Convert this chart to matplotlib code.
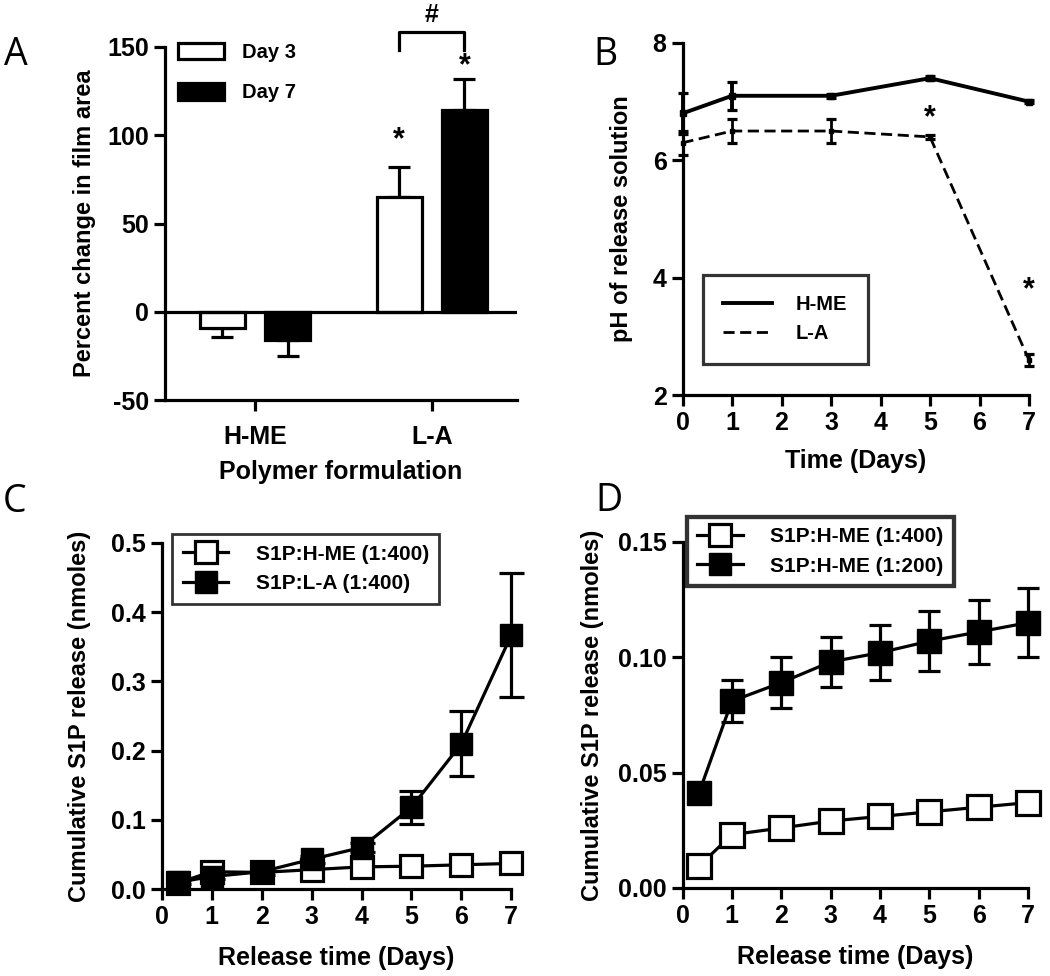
import numpy as np
import matplotlib
matplotlib.use("Agg")
import matplotlib.pyplot as plt
from matplotlib.patches import Patch
from matplotlib.lines import Line2D

plt.rcParams['font.family'] = ['Liberation Sans', 'DejaVu Sans']
plt.rcParams['font.weight'] = 'bold'
plt.rcParams['axes.unicode_minus'] = False

# panel A - film area change
formulations = ["H-ME", "L-A"]
day3_change = [-9, 65]
day3_err = [5, 17]
day7_change = [-16, 114]
day7_err = [9, 18]

# panel B - pH of release solution
ph_days = [0, 1, 3, 5, 7]
ph_hme = [6.8, 7.1, 7.1, 7.4, 7.0]
ph_hme_err = [0.35, 0.24, 0.03, 0.03, 0.03]
ph_la = [6.3, 6.5, 6.5, 6.4, 2.6]
ph_la_err = [0.2, 0.2, 0.2, 0.03, 0.1]

# panel C - cumulative release, H-ME vs L-A
rel_days = [0.33, 1, 2, 3, 4, 5, 6, 7]
c_hme = [0.009, 0.025, 0.024, 0.028, 0.032, 0.033, 0.035, 0.037]
c_la = [0.010, 0.018, 0.025, 0.043, 0.060, 0.118, 0.210, 0.367]
c_la_err = [0.003, 0.004, 0.004, 0.005, 0.006, 0.024, 0.047, 0.09]

# panel D - cumulative release, two loadings
d_400 = [0.0094, 0.0231, 0.026, 0.029, 0.031, 0.033, 0.035, 0.037]
d_200 = [0.041, 0.081, 0.089, 0.098, 0.102, 0.107, 0.111, 0.115]
d_200_err = [0.002, 0.009, 0.011, 0.011, 0.012, 0.013, 0.014, 0.015]

LW = 2.3
TICK_FS = 18
LAB_FS = 17
XLAB_FS = 18


def style(ax):
    for s in ["top", "right"]:
        ax.spines[s].set_visible(False)
    for s in ["left", "bottom"]:
        ax.spines[s].set_linewidth(LW)
    ax.tick_params(width=LW, length=8, labelsize=TICK_FS, direction="out")
    for lab in ax.get_xticklabels() + ax.get_yticklabels():
        lab.set_fontweight("bold")


fig = plt.figure(figsize=(10.5, 9.76), dpi=100)

# ---- A ----
axA = fig.add_axes([0.157, 0.590, 0.335, 0.362])
x = np.arange(len(formulations))
w = 0.255
off = 0.185
axA.bar(x - off, day3_change, w, color="white", edgecolor="black", linewidth=LW, zorder=3)
axA.bar(x + off, day7_change, w, color="black", edgecolor="black", linewidth=LW, zorder=3)
for i in range(len(formulations)):
    for xv, v, e in [(x[i] - off, day3_change[i], day3_err[i]), (x[i] + off, day7_change[i], day7_err[i])]:
        if v >= 0:
            axA.errorbar(xv, v, yerr=[[0], [e]], color="black", lw=LW, capsize=8, capthick=LW, zorder=2)
        else:
            axA.errorbar(xv, v, yerr=[[e], [0]], color="black", lw=LW, capsize=8, capthick=LW, zorder=2)
axA.axhline(0, color="black", lw=LW, zorder=4)
axA.set_xlim(-0.51, 1.48)
axA.set_ylim(-50, 150)
axA.set_yticks([-50, 0, 50, 100, 150])
axA.set_xticks(x)
axA.set_xticklabels(formulations)
axA.tick_params(axis="x", pad=10)
style(axA)
axA.set_ylabel("Percent change in film area", fontsize=LAB_FS, fontweight="bold", labelpad=8)
axA.set_xlabel("Polymer formulation", fontsize=XLAB_FS, fontweight="bold", labelpad=8)
axA.text(x[1] - off, 97, "*", ha="center", va="center", fontsize=22, fontweight="bold")
axA.text(x[1] + off, 139, "*", ha="center", va="center", fontsize=22, fontweight="bold")
axA.plot([x[1] - off, x[1] - off, x[1] + off, x[1] + off], [148, 158.5, 158.5, 148],
         color="black", lw=LW, clip_on=False)
axA.text(x[1], 161, "#", ha="center", va="bottom", fontsize=18, fontweight="bold")
axA.legend(handles=[Patch(facecolor="white", edgecolor="black", linewidth=LW, label="Day 3"),
                    Patch(facecolor="black", edgecolor="black", linewidth=LW, label="Day 7")],
           loc="upper left", bbox_to_anchor=(-0.014, 1.063), frameon=False,
           handlelength=2.3, handleheight=0.9, handletextpad=0.9, labelspacing=1.05,
           prop={"weight": "bold", "size": 14.5})

# ---- B ----
axB = fig.add_axes([0.650, 0.595, 0.330, 0.361])
axB.errorbar(ph_days, ph_hme, yerr=ph_hme_err, color="black", lw=LW + 0.5, capsize=3.5,
             capthick=LW, marker="s", ms=4, clip_on=False, label="H-ME")
axB.errorbar(ph_days, ph_la, yerr=ph_la_err, color="black", lw=LW - 0.3, ls=(0, (4, 2)), capsize=3.5,
             capthick=LW, marker="s", ms=3, clip_on=False, label="L-A")
axB.set_xlim(0, 7)
axB.set_ylim(2, 8)
axB.set_xticks(range(8))
axB.set_yticks([2, 4, 6, 8])
style(axB)
axB.set_ylabel("pH of release solution", fontsize=LAB_FS, fontweight="bold", labelpad=14)
axB.set_xlabel("Time (Days)", fontsize=XLAB_FS, fontweight="bold", labelpad=10)
axB.text(5, 6.72, "*", ha="center", va="center", fontsize=22, fontweight="bold")
axB.text(7, 3.79, "*", ha="center", va="center", fontsize=22, fontweight="bold", clip_on=False)
legB = axB.legend(handles=[Line2D([], [], color="black", lw=LW + 0.5, label="H-ME"),
                           Line2D([], [], color="black", lw=LW - 0.3, ls=(0, (4, 2)), label="L-A")],
                  loc="lower left", bbox_to_anchor=(0.06, 0.09), fancybox=False,
                  edgecolor="black", handlelength=2.4, handletextpad=1.2, borderpad=1.0,
                  borderaxespad=0, prop={"weight": "bold", "size": 14.5})
legB.get_frame().set_linewidth(LW)

# ---- C ----
axC = fig.add_axes([0.154, 0.0891, 0.333, 0.3546])
axC.errorbar(rel_days, c_hme, color="black", lw=LW, marker="s", ms=16, mfc="white", mec="black",
             mew=LW, clip_on=False, zorder=3)
axC.errorbar(rel_days, c_la, yerr=c_la_err, color="black", lw=LW, marker="s", ms=16, mfc="black",
             mec="black", capsize=9, capthick=LW, clip_on=False, zorder=4)
axC.set_xlim(0, 7)
axC.set_ylim(0, 0.5)
axC.set_xticks(range(8))
axC.set_yticks([0, 0.1, 0.2, 0.3, 0.4, 0.5])
axC.set_yticklabels(["0.0", "0.1", "0.2", "0.3", "0.4", "0.5"])
style(axC)
axC.set_ylabel("Cumulative S1P release (nmoles)", fontsize=LAB_FS, fontweight="bold", labelpad=14)
axC.set_xlabel("Release time (Days)", fontsize=XLAB_FS, fontweight="bold", labelpad=12)
hC = [Line2D([], [], color="black", lw=LW, marker="s", ms=16, mfc="white", mec="black", mew=LW),
      Line2D([], [], color="black", lw=LW, marker="s", ms=16, mfc="black", mec="black")]
legC = axC.legend(hC, ["S1P:H-ME (1:400)", "S1P:L-A (1:400)"], loc="upper left",
                  bbox_to_anchor=(0.03, 1.025), fancybox=False, edgecolor="black",
                  handlelength=2.2, handletextpad=1.3, borderpad=0.5, borderaxespad=0,
                  labelspacing=0.5, prop={"weight": "bold", "size": 15})
legC.get_frame().set_linewidth(LW - 0.3)

# ---- D ----
axD = fig.add_axes([0.650, 0.0902, 0.329, 0.3545])
axD.errorbar(rel_days, d_400, color="black", lw=LW, marker="s", ms=17, mfc="white", mec="black",
             mew=LW, clip_on=False, zorder=3)
axD.errorbar(rel_days, d_200, yerr=d_200_err, color="black", lw=LW, marker="s", ms=17, mfc="black",
             mec="black", capsize=8, capthick=LW, clip_on=False, zorder=4)
axD.set_xlim(0, 7)
axD.set_ylim(0, 0.15)
axD.set_xticks(range(8))
axD.set_yticks([0, 0.05, 0.10, 0.15])
axD.set_yticklabels(["0.00", "0.05", "0.10", "0.15"])
style(axD)
axD.set_ylabel("Cumulative S1P release (nmoles)", fontsize=LAB_FS, fontweight="bold", labelpad=10)
axD.set_xlabel("Release time (Days)", fontsize=XLAB_FS, fontweight="bold", labelpad=12)
hD = [Line2D([], [], color="black", lw=LW, marker="s", ms=16, mfc="white", mec="black", mew=LW),
      Line2D([], [], color="black", lw=LW, marker="s", ms=16, mfc="black", mec="black")]
legD = axD.legend(hD, ["S1P:H-ME (1:400)", "S1P:H-ME (1:200)"], loc="upper left",
                  bbox_to_anchor=(0.012, 1.073), fancybox=False, edgecolor="black",
                  handlelength=2.2, handletextpad=1.3, borderpad=0.5, borderaxespad=0,
                  labelspacing=0.5, prop={"weight": "bold", "size": 15})
legD.get_frame().set_linewidth(LW + 0.8)

# panel letters
for letter, px, py in [("A", 16, 55), ("B", 605, 55), ("C", 15, 502), ("D", 609, 501)]:
    fig.text(px / 1050, 1 - py / 976, letter, ha="center", va="center", fontsize=27,
             fontweight="normal", family=["Open Sans", "DejaVu Sans"])

fig.savefig("out.png", dpi=100)
